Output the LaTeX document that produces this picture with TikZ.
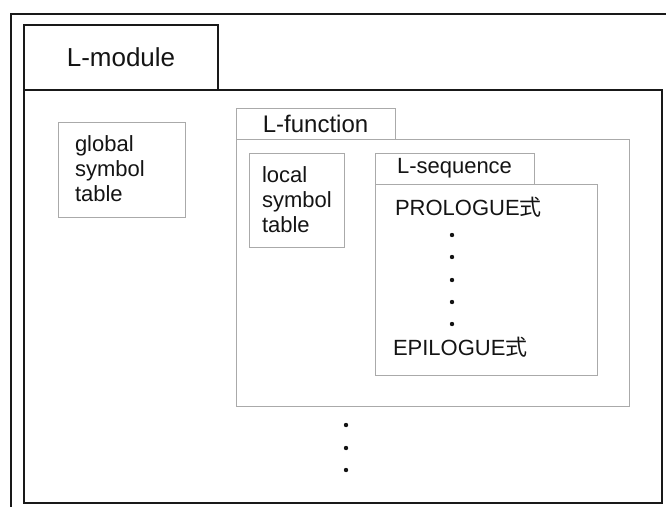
\documentclass[tikz,border=0pt]{standalone}
\usepackage{fontspec}
\setmainfont{Liberation Sans}
\newfontfamily\cjk{Noto Sans CJK JP}
\definecolor{frameline}{RGB}{25,25,25}
\definecolor{boxline}{RGB}{170,170,170}
\definecolor{ink}{RGB}{20,20,20}
\begin{document}
\begin{tikzpicture}[x=1pt,y=-1pt,
  box/.style={rectangle, inner sep=0pt, outer sep=0pt, anchor=north west, text=ink},
  heavy/.style={draw=frameline, line width=2.4pt},
  light/.style={draw=boxline, line width=1pt},
  lbl/.style={text=ink, inner sep=0pt, outer sep=0pt},
  big/.style={font=\fontsize{26}{30}\selectfont},
  mid/.style={font=\fontsize{24}{28}\selectfont},
  small/.style={font=\fontsize{22}{25}\selectfont},
  dot/.style={fill=ink}]
\useasboundingbox (0,0) rectangle (666,506);
\clip (0,0) rectangle (666,506);
% page frame, running off the right and bottom edges
\draw[frameline, line width=1.4pt] (11,520) -- (11,14) -- (680,14);

% module level
\node[box, heavy, big, minimum width=194pt, minimum height=65pt] (modtab) at (24,25) {L-module};
\node[box, heavy, line width=2.6pt, minimum width=638pt, minimum height=413pt] (module) at (24,90) {};

\node[box, light, minimum width=127pt, minimum height=95pt] (gbox) at (58,122) {};
\node[lbl, small, anchor=north west, align=left] (gtext) at (75,136) {global\\symbol\\table};

% function level
\node[box, light, minimum width=393pt, minimum height=267pt] (func) at (236,139) {};
\node[box, light, mid, minimum width=159pt, minimum height=31pt] (functab) at (236,108) {L-function};

\node[box, light, minimum width=95pt, minimum height=94pt] (lbox) at (249,153) {};
\node[lbl, small, anchor=north west, align=left] (ltext) at (262,167) {local\\symbol\\table};

% sequence level
\node[box, light, minimum width=222pt, minimum height=191pt] (seq) at (375,184) {};
\node[box, light, small, minimum width=159pt, minimum height=31pt] (seqtab) at (375,153) {L-sequence};

\node[lbl, small, anchor=base west] (pro) at (395,215) {PROLOGUE{\cjk 式}};
\node[lbl, small, anchor=base west] (epi) at (393,355) {EPILOGUE{\cjk 式}};

\foreach \y in {235,257,280,302,324}
  \fill[dot] (452,\y) circle (2.2pt);
\foreach \y in {425,448,470}
  \fill[dot] (346,\y) circle (2.2pt);
\end{tikzpicture}
\end{document}
